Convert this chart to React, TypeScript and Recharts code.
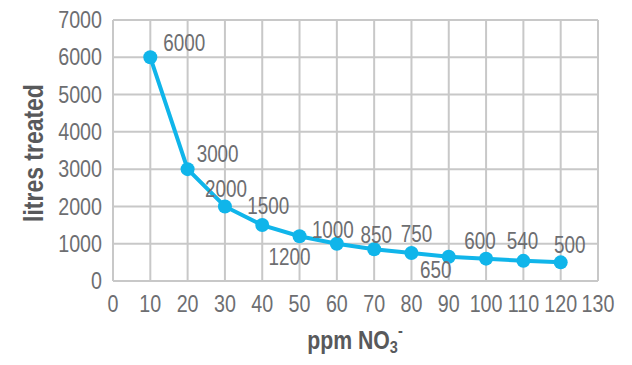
import { LineChart, Line, XAxis, YAxis, CartesianGrid, LabelList, Label } from "recharts";

const ppm = [10, 20, 30, 40, 50, 60, 70, 80, 90, 100, 110, 120];
const litres = [6000, 3000, 2000, 1500, 1200, 1000, 850, 750, 650, 600, 540, 500];
const xTicks = [0, 10, 20, 30, 40, 50, 60, 70, 80, 90, 100, 110, 120, 130];
const yTicks = [0, 1000, 2000, 3000, 4000, 5000, 6000, 7000];

// where each value label sits relative to its point (dx, dy of the text centre)
const LABEL_OFFSETS = [
    [34, -14], [30, -15], [1, -18], [6, -19], [-10, 21], [-4, -14],
    [2, -15], [5, -19], [-13, 13], [-6, -18], [-1, -20], [9, -18],
];

const data = ppm.map((p, i) => ({ ppm: p, litres: litres[i] }));

const FONT = "'Liberation Sans', Arial, sans-serif";
const GREY = "#6d6e71";
const DARK = "#58595b";
const GRID = "#c8c8c8";
const BLUE = "#10b5ea";
const SQUEEZE = 0.82; // the original uses a condensed face

// text drawn narrower than the installed font
const Narrow = ({ x, y, anchor, size, fill, bold, children, rotate }: any) => (
    <g transform={`translate(${x},${y})${rotate ? " rotate(-90)" : ""} scale(${SQUEEZE},1)`}>
        <text
            x={0}
            y={0}
            textAnchor={anchor}
            dominantBaseline="central"
            fill={fill}
            fontSize={size}
            fontWeight={bold ? "bold" : "normal"}
            fontFamily={FONT}
        >
            {children}
        </text>
    </g>
);

const XTick = (props: any) => {
    const { x, y, payload } = props;
    return (
        <Narrow x={x} y={y + 8} anchor="middle" size={24} fill={GREY}>
            {payload.value}
        </Narrow>
    );
};

const YTick = (props: any) => {
    const { x, y, payload } = props;
    return (
        <Narrow x={x} y={y} anchor="end" size={24} fill={GREY}>
            {payload.value}
        </Narrow>
    );
};

const ValueLabel = (props: any) => {
    const { x, y, value, index } = props;
    const [dx, dy] = LABEL_OFFSETS[index];
    return (
        <Narrow x={x + dx} y={y + dy} anchor="middle" size={23} fill={GREY}>
            {value}
        </Narrow>
    );
};

export default function App() {
    return (
        <div style={{ position: "absolute", left: 0, top: 0, background: "#fff" }}>
            <LineChart
                width={632}
                height={365}
                data={data}
                margin={{ top: 20, right: 34, bottom: 54, left: 53 }}
            >
                <CartesianGrid stroke={GRID} strokeWidth={2} />
                <XAxis
                    dataKey="ppm"
                    type="number"
                    domain={[0, 130]}
                    ticks={xTicks}
                    interval={0}
                    height={30}
                    tickLine={false}
                    tickSize={6}
                    tickMargin={9}
                    axisLine={{ stroke: GRID, strokeWidth: 2 }}
                    tick={<XTick />}
                >
                    <Label
                        content={() => (
                            <g transform={`translate(355,340) scale(0.85,1)`}>
                                <text
                                    x={0}
                                    y={0}
                                    textAnchor="middle"
                                    dominantBaseline="central"
                                    fill={DARK}
                                    fontSize={25}
                                    fontWeight="bold"
                                    fontFamily={FONT}
                                >
                                    ppm NO
                                    <tspan fontSize={17} dy={7}>3</tspan>
                                    <tspan fontSize={17} dy={-17}>-</tspan>
                                </text>
                            </g>
                        )}
                    />
                </XAxis>
                <YAxis
                    type="number"
                    domain={[0, 7000]}
                    ticks={yTicks}
                    interval={0}
                    width={60}
                    tickLine={false}
                    tickSize={6}
                    tickMargin={5}
                    axisLine={{ stroke: GRID, strokeWidth: 2 }}
                    tick={<YTick />}
                >
                    <Label
                        content={() => (
                            <Narrow x={33} y={153} anchor="middle" size={28} fill={DARK} bold rotate>
                                litres treated
                            </Narrow>
                        )}
                    />
                </YAxis>
                <Line
                    dataKey="litres"
                    stroke={BLUE}
                    strokeWidth={4}
                    dot={{ r: 7, fill: BLUE, stroke: "none" }}
                    activeDot={false}
                    isAnimationActive={false}
                >
                    <LabelList dataKey="litres" content={ValueLabel} />
                </Line>
            </LineChart>
        </div>
    );
}
